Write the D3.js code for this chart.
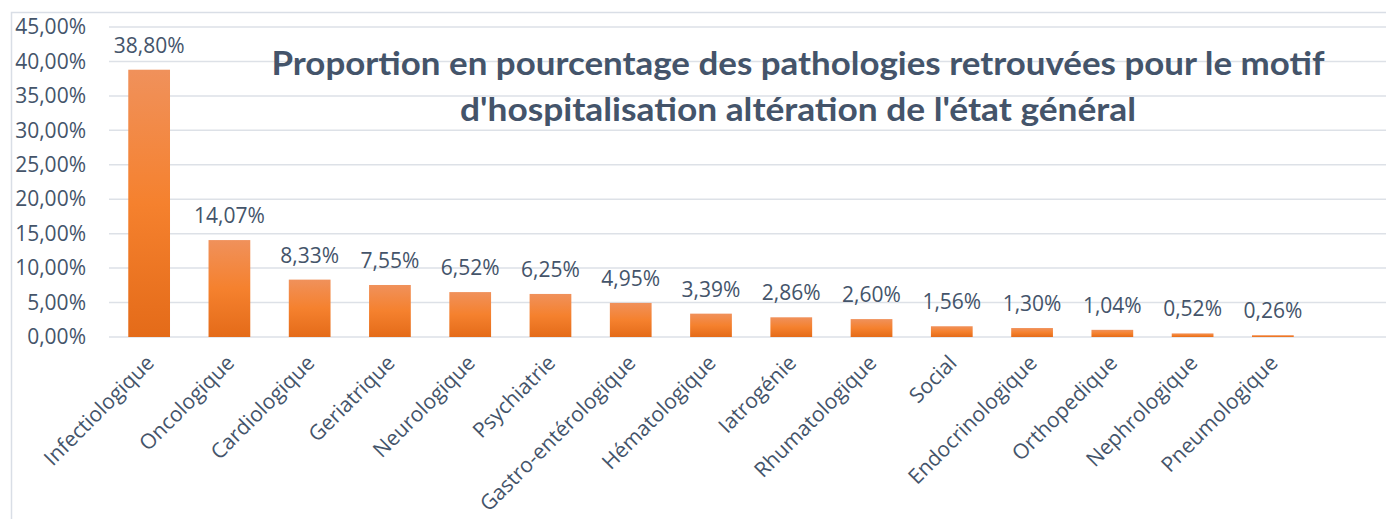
<!DOCTYPE html>
<html>
<head>
<meta charset="utf-8">
<title>Proportion des pathologies</title>
<script src="https://d3js.org/d3.v7.min.js"></script>
<style>
body { margin: 0; background: #fff; }
svg text { fill: #44546a; }
</style>
</head>
<body>
<div class="chart"></div>
<script>
// categories and values (percent)
var categories = ["Infectiologique", "Oncologique", "Cardiologique", "Geriatrique", "Neurologique",
  "Psychiatrie", "Gastro-entérologique", "Hématologique", "Iatrogénie", "Rhumatologique",
  "Social", "Endocrinologique", "Orthopedique", "Nephrologique", "Pneumologique"];
var values = [38.80, 14.07, 8.33, 7.55, 6.52, 6.25, 4.95, 3.39, 2.86, 2.60, 1.56, 1.30, 1.04, 0.52, 0.26];
var yTicks = [0, 5, 10, 15, 20, 25, 30, 35, 40, 45];
var titleLines = ["Proportion en pourcentage des pathologies retrouvées pour le motif",
  "d'hospitalisation altération de l'état général"];

var width = 1386, height = 519;
var fmt = function(v) { return v.toFixed(2).replace(".", ",") + "%"; };

var svg = d3.select(".chart").append("svg")
    .attr("width", width)
    .attr("height", height);

var defs = svg.append("defs");
var grad = defs.append("linearGradient")
    .attr("id", "barGrad")
    .attr("x1", 0).attr("y1", 0).attr("x2", 0).attr("y2", 1);
grad.append("stop").attr("offset", "0%").attr("stop-color", "#f0915b");
grad.append("stop").attr("offset", "50%").attr("stop-color", "#f5812e");
grad.append("stop").attr("offset", "100%").attr("stop-color", "#e46b19");

// chart frame (left + top edge visible)
svg.append("path")
    .attr("d", "M11.5," + height + "V12.5H" + width)
    .attr("fill", "none")
    .attr("stroke", "#d9dee6")
    .attr("stroke-width", 1.5);

var x = d3.scaleBand()
    .domain(categories)
    .range([109, 1313])
    .paddingInner(0.48)
    .paddingOuter(0.24);

var y = d3.scaleLinear()
    .domain([0, 45])
    .range([337, 27]);

// gridlines
svg.append("g")
    .selectAll("line")
    .data(yTicks)
    .enter().append("line")
    .attr("x1", 109)
    .attr("x2", width)
    .attr("y1", function(d) { return y(d); })
    .attr("y2", function(d) { return y(d); })
    .attr("stroke", "#dde1e7")
    .attr("stroke-width", 1.5);

// y axis labels
var yAxis = d3.axisLeft(y).tickValues(yTicks).tickFormat(fmt).tickSize(0).tickPadding(0);
var gy = svg.append("g")
    .attr("transform", "translate(86,0)")
    .call(yAxis);
gy.select(".domain").remove();
gy.selectAll("text")
    .style("font-family", "'Open Sans', sans-serif")
    .style("font-size", "21px")
    .style("fill", "#44546a");

// bars
svg.selectAll(".bar")
    .data(values)
    .enter().append("rect")
    .attr("class", "bar")
    .attr("x", function(d, i) { return x(categories[i]); })
    .attr("width", x.bandwidth())
    .attr("y", function(d) { return y(d); })
    .attr("height", function(d) { return y(0) - y(d); })
    .attr("fill", "url(#barGrad)");

// value labels
svg.selectAll(".val")
    .data(values)
    .enter().append("text")
    .attr("class", "val")
    .attr("x", function(d, i) { return x(categories[i]) + x.bandwidth() / 2; })
    .attr("y", function(d) { return y(d) - 17; })
    .attr("text-anchor", "middle")
    .style("font-family", "'Open Sans', sans-serif")
    .style("font-size", "21px")
    .text(fmt);

// category labels
svg.selectAll(".cat")
    .data(categories)
    .enter().append("text")
    .attr("class", "cat")
    .attr("transform", function(d) {
      return "translate(" + (x(d) + x.bandwidth() / 2 + 1) + ",359) rotate(-45)";
    })
    .attr("text-anchor", "end")
    .attr("dy", "0.35em")
    .style("font-family", "'Open Sans', sans-serif")
    .style("font-size", "21px")
    .text(function(d) { return d; });

// title
var titleW = [1053, 676];
svg.selectAll(".title")
    .data(titleLines)
    .enter().append("text")
    .attr("class", "title")
    .attr("x", 798)
    .attr("y", function(d, i) { return 75 + i * 46; })
    .attr("text-anchor", "middle")
    .attr("textLength", function(d, i) { return titleW[i]; })
    .attr("lengthAdjust", "spacingAndGlyphs")
    .style("font-family", "Lato, sans-serif")
    .style("font-weight", "bold")
    .style("font-size", "32px")
    .text(function(d) { return d; });
</script>
</body>
</html>
